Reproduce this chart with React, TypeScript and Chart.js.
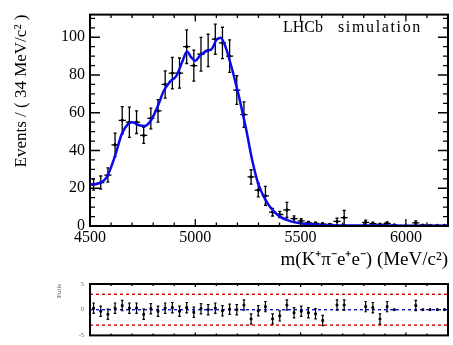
import React, { useEffect, useRef } from "react";
import { Chart, registerables } from "chart.js";
Chart.register(...registerables);

// ---------- data ----------
const BIN_CENTERS = [
  4517, 4551, 4585, 4619, 4653, 4687, 4721, 4755, 4789, 4823,
  4857, 4891, 4925, 4959, 4993, 5027, 5061, 5095, 5129, 5163,
  5197, 5231, 5265, 5299, 5333, 5367, 5401, 5435, 5469, 5503,
  5537, 5571, 5605, 5639, 5673, 5707, 5741, 5775, 5809, 5843,
  5877, 5911, 5945, 5979, 6013, 6047, 6081, 6115, 6149, 6183,
];
const BIN_HALF_WIDTH = 17;

const EVENTS: (number | null)[] = [
  22, 23, 27, 43, 56, 55, 55, 48, 57, 61,
  75, 81, 81, 95, 85, 91, 93, 99, 97, 90,
  72, 59, 26, 19, 16, 7.3, 6.1, 8.5, 3.9, 2.7,
  1.7, 1.4, 1.0, 0.8, 2.4, 4.4, null, null, 1.9, 1.2,
  0.8, 1.4, 0.5, null, null, 1.7, 0.4, 0.3, 0.3, 0.3,
];
const EVENT_ERRORS = [
  3, 3.5, 3.8, 6.2, 7.2, 8, 6, 4.2, 5.5, 6,
  7.2, 8.3, 8, 8.9, 8.2, 8.9, 8.6, 8, 8.3, 8.6,
  7.6, 6.8, 3.8, 3.6, 5, 2, 1.7, 4, 1.5, 1.2,
  0.8, 0.7, 0.6, 0.5, 1.7, 3.8, 0, 0, 1.2, 0.8,
  0.6, 0.8, 0.4, 0, 0, 1, 0.3, 0.3, 0.3, 0.3,
];

const FIT_MASS = [
  4500, 4540, 4580, 4620, 4650, 4680, 4700, 4730, 4760, 4790,
  4820, 4850, 4880, 4910, 4940, 4960, 4980, 5000, 5020, 5050,
  5080, 5100, 5120, 5140, 5160, 5200, 5240, 5270, 5300, 5330,
  5360, 5400, 5450, 5500, 5600, 5700, 5900, 6200,
];
const FIT_VALUES = [
  22, 22.5, 26, 37.5, 48.5, 54, 55, 53.5, 53, 56,
  63, 71.5, 76.5, 79.5, 87.5, 92.5, 89.5, 87.5, 90, 92.5,
  94, 98.5, 99.8, 96, 89, 72, 52, 35, 22, 14.5,
  9.4, 5.1, 2.6, 1.4, 0.5, 0.3, 0.2, 0.1,
];

const PULLS: (number | null)[] = [
  0.3, -0.3, -0.9, 0.3, 0.8, 0.3, 0.3, -0.9, 0.2, -0.3,
  0.3, 0.4, -0.3, 0.4, -0.5, 0.2, 0, 0.3, -0.2, 0.1,
  0, 0.9, -1.8, -0.2, 0.6, -1.8, -1.2, 0.9, -0.6, -0.3,
  -0.6, -0.8, -2.1, null, 0.9, 0.9, null, null, 0.6, 0.4,
  -1.8, 0.6, 0, null, null, 0.8, 0, 0, 0, 0,
];
const PULL_ERRORS = [
  1, 1, 1, 1, 1, 1, 1, 1, 1, 1,
  1, 1, 1, 1, 1, 1, 1, 1, 1, 1,
  1, 1, 1, 1, 1, 1, 1, 1, 1, 1,
  1, 1, 1, 0, 1, 1, 0, 0, 1, 1,
  1, 1, 0, 0, 0, 1, 0, 0, 0, 0,
];

const X_MIN = 4500;
const X_MAX = 6200;
const Y_MIN = 0;
const Y_MAX = 112;
const X_MAJOR_TICKS = [4500, 5000, 5500, 6000];
const X_MINOR_TICKS = [
  4600, 4700, 4800, 4900, 5100, 5200, 5300, 5400,
  5600, 5700, 5800, 5900, 6100,
];
const Y_MAJOR_TICKS = [0, 20, 40, 60, 80, 100];
const Y_MINOR_TICKS = [
  5, 10, 15, 25, 30, 35, 45, 50, 55, 65, 70, 75, 85, 90, 95, 105, 110,
];
const PULL_TICKS = [-5, 0, 5];
const PULL_LIMIT = 3;

const X_TITLE = "m(K\u207A\u03C0\u207Be\u207Ae\u207B) (MeV/c\u00B2)";
const Y_TITLE = "Events / ( 34 MeV/c\u00B2 )";
const LABEL_WORDS = ["LHCb", "simulation"];

const SERIF = "'Liberation Serif', 'Times New Roman', serif";

// ---------- drawing helpers ----------
function drawErrorBars(
  chart: any,
  xs: number[],
  ys: (number | null)[],
  errs: number[],
  halfWidth: number,
  cap: number,
  lw: number
) {
  const { ctx, scales } = chart;
  const x = scales.x;
  const y = scales.y;
  ctx.save();
  ctx.strokeStyle = "#000";
  ctx.lineWidth = lw;
  ctx.beginPath();
  for (let i = 0; i < xs.length; i++) {
    const v = ys[i];
    if (v == null) continue;
    const px = x.getPixelForValue(xs[i]);
    const py = y.getPixelForValue(v);
    if (halfWidth > 0) {
      ctx.moveTo(x.getPixelForValue(xs[i] - halfWidth), py);
      ctx.lineTo(x.getPixelForValue(xs[i] + halfWidth), py);
    }
    const e = errs[i];
    if (e > 0) {
      const yt = y.getPixelForValue(v + e);
      const yb = y.getPixelForValue(Math.max(v - e, y.min));
      ctx.moveTo(px, yt);
      ctx.lineTo(px, yb);
      ctx.moveTo(px - cap, yt);
      ctx.lineTo(px + cap, yt);
      ctx.moveTo(px - cap, yb);
      ctx.lineTo(px + cap, yb);
    }
  }
  ctx.stroke();
  ctx.restore();
}

function drawFrame(
  chart: any,
  o: {
    xMajor: number[];
    xMinor: number[];
    yMajor: number[];
    yMinor: number[];
    xMaj: number;
    xMin: number;
    yMaj: number;
    yMin: number;
    frame: number;
  }
) {
  const { ctx, chartArea, scales } = chart;
  const { left, right, top, bottom } = chartArea;
  const x = scales.x;
  const y = scales.y;
  ctx.save();
  ctx.strokeStyle = "#000";
  ctx.lineWidth = 1.3;
  ctx.beginPath();
  const xt = (vals: number[], len: number) => {
    for (const v of vals) {
      const p = x.getPixelForValue(v);
      ctx.moveTo(p, bottom);
      ctx.lineTo(p, bottom - len);
      ctx.moveTo(p, top);
      ctx.lineTo(p, top + len);
    }
  };
  const yt = (vals: number[], len: number) => {
    for (const v of vals) {
      const p = y.getPixelForValue(v);
      ctx.moveTo(left, p);
      ctx.lineTo(left + len, p);
      ctx.moveTo(right, p);
      ctx.lineTo(right - len, p);
    }
  };
  xt(o.xMajor, o.xMaj);
  xt(o.xMinor, o.xMin);
  yt(o.yMajor, o.yMaj);
  yt(o.yMinor, o.yMin);
  ctx.stroke();
  ctx.lineWidth = o.frame;
  ctx.strokeRect(left, top, right - left, bottom - top);
  ctx.restore();
}

function drawLabel(chart: any) {
  const { ctx } = chart;
  ctx.save();
  ctx.fillStyle = "#000";
  ctx.font = "16px " + SERIF;
  ctx.textBaseline = "middle";
  ctx.textAlign = "left";
  const boxes = [
    { x0: 283, x1: 323 },
    { x0: 338, x1: 422 },
  ];
  LABEL_WORDS.forEach((w, i) => {
    (ctx as any).letterSpacing = "0px";
    const m = ctx.measureText(w).width;
    const ls = (boxes[i].x1 - boxes[i].x0 - m) / w.length;
    (ctx as any).letterSpacing = ls.toFixed(2) + "px";
    ctx.fillText(w, boxes[i].x0, 28);
  });
  (ctx as any).letterSpacing = "0px";
  ctx.restore();
}

// ---------- component ----------
export default function App() {
  const mainRef = useRef<HTMLCanvasElement | null>(null);
  const pullRef = useRef<HTMLCanvasElement | null>(null);

  useEffect(() => {
    const pointData = BIN_CENTERS.map((m, i) =>
      EVENTS[i] == null ? null : { x: m, y: EVENTS[i] as number }
    ).filter((p) => p != null);
    const fitData = FIT_MASS.map((m, i) => ({ x: m, y: FIT_VALUES[i] }));

    const mainPlugin = {
      id: "rootStyle",
      beforeDatasetsDraw(chart: any) {
        drawErrorBars(chart, BIN_CENTERS, EVENTS, EVENT_ERRORS, BIN_HALF_WIDTH, 1.5, 1.3);
      },
      afterDraw(chart: any) {
        drawFrame(chart, {
          xMajor: X_MAJOR_TICKS,
          xMinor: X_MINOR_TICKS,
          yMajor: Y_MAJOR_TICKS,
          yMinor: Y_MINOR_TICKS,
          xMaj: 7,
          xMin: 3.5,
          yMaj: 10,
          yMin: 5,
          frame: 2,
        });
        drawLabel(chart);
      },
    };

    const main = new Chart(mainRef.current as HTMLCanvasElement, {
      type: "scatter",
      data: {
        datasets: [
          {
            type: "line",
            data: fitData,
            borderColor: "rgb(10,10,235)",
            borderWidth: 2.5,
            pointRadius: 0,
            cubicInterpolationMode: "monotone",
            fill: false,
            order: 0,
          } as any,
          {
            type: "scatter",
            data: pointData as any,
            backgroundColor: "#000",
            borderColor: "#000",
            pointRadius: 1.2,
            order: 1,
          },
        ],
      },
      options: {
        responsive: false,
        animation: false,
        layout: { padding: { left: 0, right: 3, top: 5, bottom: 0 } },
        plugins: { legend: { display: false }, tooltip: { enabled: false } },
        scales: {
          x: {
            type: "linear",
            min: X_MIN,
            max: X_MAX,
            grid: { display: false, drawTicks: false },
            border: { display: false },
            afterBuildTicks: (s: any) => {
              s.ticks = X_MAJOR_TICKS.map((v) => ({ value: v }));
            },
            afterFit: (s: any) => {
              s.height = 44;
            },
            ticks: {
              color: "#000",
              padding: 2,
              maxRotation: 0,
              autoSkip: false,
              font: { family: SERIF, size: 16 },
              callback: (v: any) => String(v),
            },
            title: {
              display: true,
              text: X_TITLE,
              align: "end",
              color: "#000",
              font: { family: SERIF, size: 19 },
              padding: { top: 0, bottom: -1 },
            },
          },
          y: {
            type: "linear",
            min: Y_MIN,
            max: Y_MAX,
            grid: { display: false, drawTicks: false },
            border: { display: false },
            afterBuildTicks: (s: any) => {
              s.ticks = Y_MAJOR_TICKS.map((v) => ({ value: v }));
            },
            afterFit: (s: any) => {
              s.width = 90;
            },
            ticks: {
              color: "#000",
              padding: 5,
              autoSkip: false,
              font: { family: SERIF, size: 16 },
              callback: (v: any) => String(v),
            },
            title: {
              display: true,
              text: Y_TITLE,
              align: "end",
              color: "#000",
              font: { family: SERIF, size: 17 },
              padding: { top: 11, bottom: 0 },
            },
          },
        },
      },
      plugins: [mainPlugin],
    });

    const pullPoints = BIN_CENTERS.map((m, i) =>
      PULLS[i] == null ? null : { x: m, y: PULLS[i] as number }
    ).filter((p) => p != null);

    const pullPlugin = {
      id: "pullStyle",
      afterDatasetsDraw(chart: any) {
        drawErrorBars(chart, BIN_CENTERS, PULLS, PULL_ERRORS, 0, 1.3, 1.2);
      },
      afterDraw(chart: any) {
        drawFrame(chart, {
          xMajor: X_MAJOR_TICKS,
          xMinor: X_MINOR_TICKS,
          yMajor: [],
          yMinor: [],
          xMaj: 3,
          xMin: 2,
          yMaj: 0,
          yMin: 0,
          frame: 2,
        });
      },
    };

    const pull = new Chart(pullRef.current as HTMLCanvasElement, {
      type: "scatter",
      data: {
        datasets: [
          {
            type: "line",
            data: [
              { x: X_MIN, y: PULL_LIMIT },
              { x: X_MAX, y: PULL_LIMIT },
            ],
            borderColor: "rgb(215,0,0)",
            borderWidth: 1.4,
            borderDash: [3, 3],
            pointRadius: 0,
            order: 3,
          } as any,
          {
            type: "line",
            data: [
              { x: X_MIN, y: -PULL_LIMIT },
              { x: X_MAX, y: -PULL_LIMIT },
            ],
            borderColor: "rgb(215,0,0)",
            borderWidth: 1.4,
            borderDash: [3, 3],
            pointRadius: 0,
            order: 3,
          } as any,
          {
            type: "line",
            data: [
              { x: X_MIN, y: 0 },
              { x: X_MAX, y: 0 },
            ],
            borderColor: "rgb(20,20,200)",
            borderWidth: 1.4,
            borderDash: [3, 3],
            pointRadius: 0,
            order: 2,
          } as any,
          {
            type: "scatter",
            data: pullPoints as any,
            backgroundColor: "#000",
            borderColor: "#000",
            pointStyle: "rect",
            pointRadius: 1.3,
            order: 0,
          },
        ],
      },
      options: {
        responsive: false,
        animation: false,
        layout: { padding: { left: 0, right: 3, top: 12, bottom: 6 } },
        plugins: { legend: { display: false }, tooltip: { enabled: false } },
        scales: {
          x: {
            type: "linear",
            min: X_MIN,
            max: X_MAX,
            display: false,
          },
          y: {
            type: "linear",
            min: -5,
            max: 5,
            grid: { display: false, drawTicks: false },
            border: { display: false },
            afterBuildTicks: (s: any) => {
              s.ticks = PULL_TICKS.map((v) => ({ value: v }));
            },
            afterFit: (s: any) => {
              s.width = 90;
            },
            ticks: {
              color: "#555",
              padding: 6,
              autoSkip: false,
              font: { family: SERIF, size: 6 },
              callback: (v: any) => String(v),
            },
            title: {
              display: true,
              text: "Pulls",
              align: "end",
              color: "#555",
              font: { family: SERIF, size: 7 },
              padding: { top: 55, bottom: 0 },
            },
          },
        },
      },
      plugins: [pullPlugin],
    });

    return () => {
      main.destroy();
      pull.destroy();
    };
  }, []);

  return (
    <div
      style={{
        position: "absolute",
        left: 0,
        top: 0,
        width: 453,
        height: 345,
        background: "#fff",
      }}
    >
      <canvas
        ref={mainRef}
        width={453}
        height={270}
        style={{ position: "absolute", left: 0, top: 0, width: 453, height: 270 }}
      />
      <canvas
        ref={pullRef}
        width={453}
        height={73}
        style={{ position: "absolute", left: 0, top: 272, width: 453, height: 73 }}
      />
    </div>
  );
}
